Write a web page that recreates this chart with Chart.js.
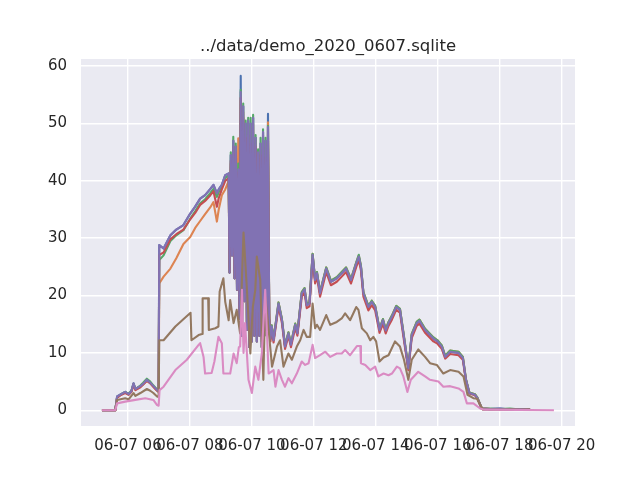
<!DOCTYPE html>
<html><head><meta charset="utf-8">
<script src="https://cdn.jsdelivr.net/npm/chart.js@4.4.0/dist/chart.umd.min.js"></script>
<style>html,body{margin:0;padding:0;background:#fff;}canvas{display:block;}</style>
</head><body>
<canvas id="c" width="640" height="480"></canvas>
<script>
const chartTitle = '../data/demo_2020_0607.sqlite';
const xTickValues = [6, 8, 10, 12, 14, 16, 18, 20];
const xTickLabels = ['06-07 06', '06-07 08', '06-07 10', '06-07 12', '06-07 14', '06-07 16', '06-07 18', '06-07 20'];
const yTickValues = [0, 10, 20, 30, 40, 50, 60];
const seriesNames = ['s1', 's2', 's3', 's4', 's5', 's6', 's7'];
const seriesColors = ['#4C72B0', '#DD8452', '#55A868', '#C44E52', '#8172B3', '#937860', '#DA8BC3'];

// hours of day for the five main series
const tMain = [
 5.16,5.59,5.65,5.75,5.91,6.02,6.11,6.18,6.24,6.40,
 6.49,6.61,6.72,6.82,6.94,6.99,7.01,7.15,7.37,7.56,
 7.79,8.01,8.17,8.33,8.49,8.66,8.76,8.87,8.93,9.03,
 9.14,9.25,9.28,9.32,9.36,9.40,9.44,9.48,9.52,9.56,
 9.60,9.64,9.68,9.72,9.76,9.80,9.84,9.88,9.92,9.96,
 10.00,10.04,10.08,10.12,10.16,10.20,10.24,10.28,10.32,10.36,
 10.40,10.44,10.48,10.52,10.56,10.60,10.64,10.70,10.86,10.97,
 11.07,11.18,11.26,11.40,11.47,11.61,11.70,11.77,11.86,11.96,
 12.04,12.10,12.20,12.40,12.55,12.74,12.90,13.04,13.20,13.37,
 13.45,13.52,13.60,13.76,13.87,13.98,14.12,14.23,14.32,14.41,
 14.52,14.66,14.78,14.89,15.05,15.16,15.32,15.41,15.59,15.86,
 15.99,16.13,16.24,16.40,16.67,16.81,16.91,17.02,17.20,17.28,
 17.42,17.69,18.01,18.33,18.66,18.98];

const blueVals = [
 0,0,2.4,2.7,3.2,2.8,3.3,4.7,3.7,4.2,
 4.6,5.3,4.8,4.2,3.5,3.3,28.8,28.2,30.5,31.5,
 32.3,34.3,35.5,36.9,37.5,38.6,39.3,37.8,38.5,39.3,
 41.0,41.3,24,44.5,27,47,23,46,21,42,
 16,58.3,13,53,19,50,14,50.5,11,50,
 12,51,13,47.5,12,45,13,46.5,11,48.5,
 13,47,14,51.7,16,12.5,14.6,12.2,18.6,15.7,
 11.1,13.4,11.4,14.9,13.4,20.4,21.1,18.3,18.6,27.1,
 22.7,23.9,20.4,24.7,22.4,23.0,23.9,24.7,22.7,25.6,
 26.8,25.0,20.4,18.0,18.9,18.0,14.0,15.7,13.9,15.2,
 16.3,18.0,17.5,13.4,7.3,13.1,15.2,15.6,14.0,12.5,
 12.0,11.1,9.3,10.2,10.0,9.1,5.3,3.0,2.7,2.1,
 0.3,0.2,0.3,0.1,0.2,0.1];

const orangeVals = [
 0,0,2.2,2.6,3.1,2.7,3.2,4.5,3.6,4.1,
 4.5,5.2,4.7,4.1,3.4,3.2,22.1,23.3,24.7,26.5,
 29.0,30.2,31.8,33.0,34.2,35.4,36.3,32.9,35.0,37.5,
 38.5,40.0,25,43,28,45.5,24,45,22,47.4,
 17,54,14,52,20,49,15,49.5,12,49.5,
 13,50,14,47,13,44.5,14,46,12,48,
 14,46.5,15,50.2,17,13,14.8,12.4,18.8,15.9,
 11.3,13.6,11.6,15.1,13.6,20.6,21.3,18.5,18.8,27.3,
 22.9,24.1,20.6,24.9,22.6,23.2,24.1,24.9,22.9,25.8,
 27.0,25.2,20.6,18.2,19.1,18.2,14.2,15.9,14.1,15.4,
 16.5,18.2,17.7,13.6,7.5,13.3,15.4,15.8,14.2,12.7,
 12.2,11.3,9.5,10.4,10.2,9.3,5.4,3.1,2.8,2.2,
 0.3,0.2,0.2,0.2,0.1,0.1];

const greenVals = [
 0,0,2.3,2.7,3.2,2.9,3.4,4.6,3.7,4.3,
 4.8,5.5,5.0,4.3,3.6,3.4,26.2,27.0,29.5,30.5,
 31.4,33.4,34.7,36.1,36.8,37.9,38.6,37.2,38.0,39.0,
 40.5,41.0,24,45,27,47.7,23,46.5,21,43,
 16,55.9,13,53.5,19,50.5,14,51,11,51,
 12,51.5,13,48,12,45.5,13,47.5,11,49,
 13,47.5,14,49.6,16,12.5,14.8,12.4,18.8,15.9,
 11.3,13.6,11.6,15.1,13.6,20.6,21.3,18.5,18.8,27.3,
 22.9,24.1,20.6,24.9,22.6,23.2,24.1,24.9,22.9,25.8,
 27.1,25.2,20.6,18.2,19.1,18.2,14.2,15.9,14.1,15.4,
 16.5,18.2,17.7,13.6,7.5,13.3,15.4,15.8,14.2,12.7,
 12.2,11.3,9.5,10.4,10.2,9.3,5.4,3.1,2.8,2.2,
 0.3,0.3,0.2,0.3,0.1,0.1];

const redVals = [
 0,0,2.2,2.6,3.0,2.7,3.2,4.5,3.5,4.0,
 4.5,5.1,4.7,4.1,3.4,3.2,27.1,27.5,29.8,30.7,
 31.5,33.3,34.4,35.8,36.5,37.5,38.2,35.5,37.0,38.5,
 40.0,40.5,24,43.5,27,46,23,45,21,41.5,
 16,54.5,13,51,19,47.5,14,48,11,46.5,
 12,47,13,46,12,44,13,44.5,11,46,
 13,44,14,47,16,12,14.2,11.8,18.1,15.2,
 10.7,13.0,11.0,14.4,13.0,19.8,20.5,17.8,18.1,26.4,
 22.1,23.3,19.8,24.1,21.8,22.4,23.3,24.1,22.1,25.0,
 26.2,24.4,19.8,17.4,18.3,17.4,13.5,15.1,13.4,14.7,
 15.8,17.5,17.0,12.9,7.0,12.6,14.7,15.1,13.5,12.0,
 11.6,10.7,9.0,9.8,9.6,8.8,5.1,2.9,2.6,2.0,
 0.3,0.2,0.2,0.1,0.2,0.1];

const purpleVals = [
 0,0,2.4,2.7,3.2,2.8,3.3,4.7,3.7,4.2,
 4.6,5.3,4.8,4.2,3.5,3.3,28.8,28.2,30.5,31.5,
 32.3,34.3,35.5,36.9,37.5,38.6,39.3,37.8,38.5,39.3,
 41.0,41.3,24,44.5,27,47,23,46,21,42,
 16,55.5,13,53,19,50,14,50.5,11,50,
 12,51,13,47.5,12,45,13,46.5,11,48.5,
 13,47,14,49.4,16,12.5,14.6,12.2,18.6,15.7,
 11.1,13.4,11.4,14.9,13.4,20.4,21.1,18.3,18.6,27.1,
 22.7,23.9,20.4,24.7,22.4,23.0,23.9,24.7,22.7,25.6,
 26.8,25.0,20.4,18.0,18.9,18.0,14.0,15.7,13.9,15.2,
 16.3,18.0,17.5,13.4,7.3,13.1,15.2,15.6,14.0,12.5,
 12.0,11.1,9.3,10.2,10.0,9.1,5.3,3.0,2.7,2.1,
 0.3,0.2,0.3,0.1,0.2,0.1];

const tBrown = [
 5.16,5.59,5.65,5.91,6.02,6.18,6.24,6.40,6.61,6.72,
 6.82,6.94,6.99,7.01,7.15,7.53,8.02,8.05,8.28,8.39,
 8.41,8.59,8.61,8.82,8.92,8.96,9.08,9.14,9.25,9.30,
 9.41,9.51,9.62,9.73,9.84,9.95,10.03,10.11,10.16,10.27,
 10.37,10.43,10.54,10.65,10.81,10.91,11.02,11.18,11.29,11.45,
 11.56,11.67,11.77,11.88,11.96,12.04,12.10,12.20,12.40,12.53,
 12.74,12.90,13.01,13.17,13.37,13.44,13.55,13.71,13.82,13.92,
 14.01,14.12,14.25,14.41,14.62,14.78,14.91,15.05,15.16,15.37,
 15.59,15.75,15.97,16.18,16.40,16.67,16.83,16.96,17.15,17.27,
 17.37,17.46,18.01,18.98];
const brownVals = [
 0,0,1.8,2.1,1.9,3.0,2.5,3.0,3.7,3.4,
 3.0,2.4,2.3,12.2,12.2,14.6,17.0,12.2,13.1,13.3,
 19.5,19.5,14.0,14.3,14.6,20.7,23.0,18.9,15.7,19.2,
 15.2,17.5,13.4,31.0,21.0,9.9,18.0,21.0,26.8,22.7,
 5.3,19.8,14.0,7.6,11.1,12.2,7.6,9.9,8.8,11.1,
 12.2,14.0,12.8,12.8,18.6,14.3,14.9,14.0,16.6,14.9,
 15.4,16.0,16.9,15.7,18.0,17.5,14.3,13.4,12.2,12.8,
 12.0,8.5,9.2,9.6,12.0,11.1,8.8,5.3,8.8,10.6,
 9.3,8.2,7.9,6.4,7.0,6.7,5.9,2.7,2.1,2.0,
 0.9,0.1,0.1,0.1];

const tPink = [
 5.16,5.59,5.65,5.91,6.24,6.56,6.82,6.94,6.99,7.02,
 7.15,7.53,7.90,8.28,8.33,8.44,8.49,8.70,8.79,8.92,
 9.03,9.08,9.30,9.41,9.51,9.58,9.62,9.68,9.73,9.78,
 9.89,10.00,10.11,10.21,10.32,10.43,10.54,10.70,10.76,10.86,
 10.97,11.07,11.18,11.29,11.45,11.61,11.72,11.83,11.96,12.04,
 12.20,12.37,12.53,12.74,12.90,13.01,13.17,13.39,13.50,13.52,
 13.66,13.82,13.98,14.08,14.25,14.41,14.52,14.68,14.78,14.89,
 15.02,15.13,15.37,15.59,15.75,16.02,16.18,16.40,16.67,16.83,
 16.94,17.15,17.37,17.50,19.75];
const pinkVals = [
 0,0,1.2,1.5,1.8,2.1,1.8,0.9,0.8,3.5,
 4.1,7.0,8.8,11.4,11.7,9.3,6.4,6.5,8.5,12.8,
 11.7,6.4,6.4,9.9,8.2,11.0,11.1,21.0,10.0,15.2,
 5.3,3.0,7.6,5.3,9.9,21.0,6.4,7.0,4.1,7.0,
 5.3,4.1,5.6,4.7,6.4,8.5,7.9,8.2,11.4,9.1,
 9.6,10.2,9.3,9.9,9.9,10.5,9.6,11.2,11.2,8.2,
 7.9,7.0,7.6,5.9,6.4,6.1,6.4,7.6,7.3,5.9,
 3.2,5.3,6.7,5.9,5.3,5.0,4.1,4.2,3.8,3.2,
 1.2,1.2,0.3,0.1,0.0];

const pairs = (t, v) => t.map((x, i) => ({ x: x, y: v[i] }));
const seriesData = [
  pairs(tMain, blueVals), pairs(tMain, orangeVals), pairs(tMain, greenVals),
  pairs(tMain, redVals), pairs(tMain, purpleVals), pairs(tBrown, brownVals), pairs(tPink, pinkVals)
];

const datasets = seriesData.map((d, i) => ({
  label: seriesNames[i], data: d, borderColor: seriesColors[i], backgroundColor: seriesColors[i],
  borderWidth: 2.1, pointRadius: 0, fill: false, tension: 0, order: seriesData.length - 1 - i,
  borderJoinStyle: 'round'
}));

const bgPlugin = {
  id: 'bg',
  beforeDraw(chart) {
    const { ctx, chartArea: a } = chart;
    ctx.save();
    ctx.fillStyle = '#ffffff';
    ctx.fillRect(0, 0, chart.width, chart.height);
    ctx.fillStyle = '#EAEAF2';
    ctx.fillRect(a.left, a.top, a.right - a.left, a.bottom - a.top);
    ctx.restore();
  }
};
const titlePlugin = {
  id: 'ttl',
  afterDraw(chart) {
    const { ctx, chartArea: a } = chart;
    ctx.save();
    ctx.fillStyle = '#262626';
    ctx.font = '16.5px "DejaVu Sans"';
    ctx.textAlign = 'center';
    ctx.textBaseline = 'alphabetic';
    ctx.fillText(chartTitle, (a.left + a.right) / 2, 51);
    ctx.restore();
  }
};

const tickFont = { family: 'DejaVu Sans', size: 15 };
new Chart(document.getElementById('c'), {
  type: 'line',
  data: { datasets: datasets },
  options: {
    responsive: false, animation: false, devicePixelRatio: 1,
    layout: { padding: { top: 59, right: 65, left: 0, bottom: 0 } },
    plugins: { legend: { display: false }, tooltip: { enabled: false }, title: { display: false } },
    scales: {
      x: {
        type: 'linear', min: 4.484, max: 20.43,
        afterBuildTicks: s => { s.ticks = xTickValues.map(v => ({ value: v })); },
        afterFit: s => { s.height = 54; },
        grid: { color: '#ffffff', lineWidth: 1.4, drawTicks: false },
        border: { display: false },
        ticks: {
          padding: 11, color: '#262626', font: tickFont, maxRotation: 0, minRotation: 0, autoSkip: false,
          callback: v => { const k = xTickValues.indexOf(v); return k >= 0 ? xTickLabels[k] : ''; }
        }
      },
      y: {
        type: 'linear', min: -2.75, max: 61.25,
        afterBuildTicks: s => { s.ticks = yTickValues.map(v => ({ value: v })); },
        afterFit: s => { s.width = 81; },
        grid: { color: '#ffffff', lineWidth: 1.4, drawTicks: false },
        border: { display: false },
        ticks: { padding: 14, color: '#262626', font: tickFont, callback: v => String(v) }
      }
    }
  },
  plugins: [bgPlugin, titlePlugin]
});
</script>
</body></html>
